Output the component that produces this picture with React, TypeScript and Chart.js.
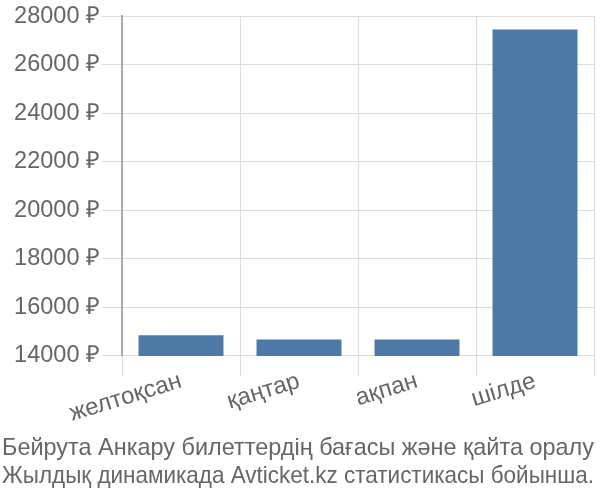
import React, { useEffect, useRef } from "react";
import { Chart, registerables } from "chart.js";

Chart.register(...registerables);

const categories = ["желтоқсан", "қаңтар", "ақпан", "шілде"];
const prices = [14850, 14670, 14670, 27450];
const titleLines = [
  "Бейрута Анкару билеттердің бағасы және қайта оралу",
  "Жылдық динамикада Avticket.kz статистикасы бойынша.",
];
const FONT = "Liberation Sans, Arial, sans-serif";

export default function App() {
  const ref = useRef<HTMLCanvasElement | null>(null);
  useEffect(() => {
    if (!ref.current) return;
    const chart = new Chart(ref.current, {
      type: "bar",
      data: {
        labels: categories,
        datasets: [
          {
            data: prices,
            backgroundColor: "#4e79a7",
            borderWidth: 0,
          },
        ],
      },
      options: {
        animation: false,
        responsive: false,
        maintainAspectRatio: false,
        layout: { padding: { left: 2, right: 6, top: 3, bottom: 0 } },
        plugins: {
          legend: { display: false },
          tooltip: { enabled: false },
          title: {
            display: true,
            position: "bottom",
            text: titleLines,
            color: "#666",
            font: { family: FONT, size: 23.8, weight: "normal", lineHeight: 1.2 },
            padding: { top: 0, bottom: 9 },
            align: "start",
          },
        },
        scales: {
          x: {
            grid: { color: "#ddd", tickLength: 20, offset: true },
            border: { color: "#ddd" },
            ticks: {
              color: "#666",
              font: { family: FONT, size: 24 },
              minRotation: 17,
              maxRotation: 17,
              padding: -9,
            },
            afterFit: (scale: any) => {
              scale.height = 78;
            },
          },
          y: {
            min: 14000,
            max: 28000,
            grid: { color: "#ddd", tickLength: 20 },
            border: { color: "#aaa", width: 2 },
            ticks: {
              stepSize: 2000,
              color: "#666",
              font: { family: FONT, size: 23.5 },
              padding: 2,
              callback: (v: any) => v + " ₽",
            },
            afterFit: (scale: any) => {
              scale.width = 120;
            },
          },
        },
      },
    });
    return () => chart.destroy();
  }, []);
  return (
    <div style={{ position: "fixed", left: 0, top: 0, width: 600, height: 500 }}>
      <canvas ref={ref} width={600} height={500} style={{ width: 600, height: 500 }} />
    </div>
  );
}
